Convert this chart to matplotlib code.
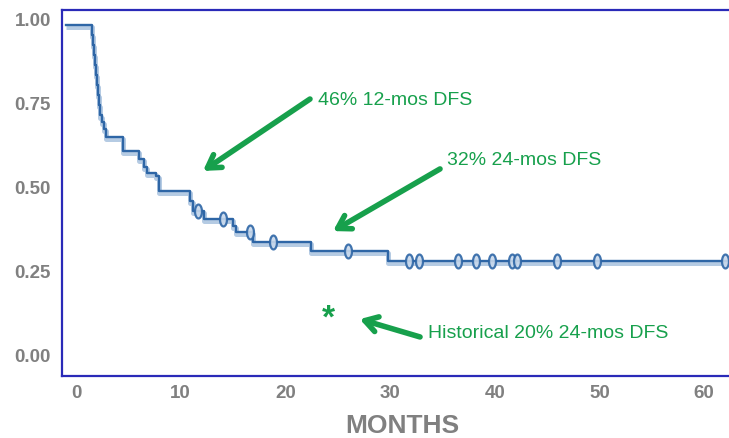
import matplotlib
matplotlib.use("Agg")
import matplotlib.pyplot as plt
import numpy as np

plt.rcParams['font.family'] = ['Liberation Sans', 'DejaVu Sans']

# Kaplan-Meier style step data (months, DFS fraction)
times = [-1.0, 1.5, 1.6, 1.7, 1.8, 1.9, 2.0, 2.1, 2.2, 2.3, 2.5, 2.7, 2.9,
         4.5, 6.0, 6.5, 6.8, 7.6, 7.9, 10.9, 11.2, 12.2, 15.0, 15.3, 16.9,
         22.4, 29.8, 62.5]
surv = [0.98, 0.95, 0.92, 0.89, 0.86, 0.83, 0.80, 0.77, 0.74, 0.71, 0.69,
        0.67, 0.645, 0.605, 0.58, 0.558, 0.54, 0.53, 0.485, 0.455, 0.425,
        0.402, 0.38, 0.363, 0.333, 0.307, 0.277, 0.277]

# censored observations
cens_t = [11.7, 14.0, 16.6, 18.8, 26.0, 31.8, 32.8, 36.5, 38.2, 39.7,
          41.6, 42.1, 45.9, 49.8, 62.0]
cens_s = [0.425, 0.402, 0.363, 0.333, 0.307, 0.277, 0.277, 0.277, 0.277,
          0.277, 0.277, 0.277, 0.277, 0.277, 0.277]

xticks = [0, 10, 20, 30, 40, 50, 60]
yticks = [0.0, 0.25, 0.5, 0.75, 1.0]

green = '#17a04c'
gray = '#808080'
dark_blue = '#2e66a6'
light_blue = '#b5cbe3'

fig = plt.figure(figsize=(7.29, 4.39), dpi=100)
ax = fig.add_axes([0.085, 0.141, 0.915, 0.834])

# shadow line slightly below, then the main line
ax.step(times, np.array(surv) - 0.006, where='post', color=light_blue,
        lw=3.6, solid_capstyle='butt', zorder=2)
ax.step(times, surv, where='post', color=dark_blue, lw=1.7, zorder=3)

th = np.linspace(0, 2 * np.pi, 40)
ellipse = list(zip(0.5 * np.cos(th), np.sin(th)))
ax.plot(cens_t, cens_s, linestyle='none', marker=ellipse, markersize=10,
        mfc='#c9d9ec', mec=dark_blue, mew=1.6, alpha=0.9, zorder=4)

ax.set_xlim(-1.34, 62.37)
ax.set_ylim(-0.0655, 1.024)
ax.set_xticks(xticks)
ax.set_yticks(yticks)
ax.set_xticklabels([str(v) for v in xticks])
ax.set_yticklabels([f'{v:.2f}' for v in yticks])
ax.tick_params(length=0, labelsize=13.5, colors=gray)
ax.tick_params(axis='x', pad=6)
ax.tick_params(axis='y', pad=8)
for lab in ax.get_xticklabels() + ax.get_yticklabels():
    lab.set_fontweight('bold')

for side in ['left', 'bottom', 'top']:
    ax.spines[side].set_color('#2a2ab8')
    ax.spines[side].set_linewidth(1.6)
ax.spines['right'].set_visible(False)

ax.set_xlabel('MONTHS', fontsize=19, fontweight='bold', color=gray)
ax.xaxis.set_label_coords(0.51, -0.1)

arrow = dict(arrowstyle='->,head_length=0.9,head_width=0.55', color=green,
             lw=4, shrinkA=0, shrinkB=0)
ax.annotate('', xy=(12.13, 0.545), xytext=(22.35, 0.759), arrowprops=arrow)
ax.annotate('', xy=(24.55, 0.366), xytext=(34.77, 0.551), arrowprops=arrow)
ax.annotate('', xy=(27.1, 0.104), xytext=(32.86, 0.051), arrowprops=arrow)

ax.text(23.1, 0.759, '46% 12-mos DFS', color=green, fontsize=14, va='center')
ax.text(35.4, 0.580, '32% 24-mos DFS', color=green, fontsize=14, va='center')
ax.text(33.6, 0.065, 'Historical 20% 24-mos DFS', color=green, fontsize=14,
        va='center')
ax.text(24.07, 0.107, '*', color=green, fontsize=24, fontweight='bold',
        ha='center', va='center')

fig.savefig('out.png', dpi=100)
